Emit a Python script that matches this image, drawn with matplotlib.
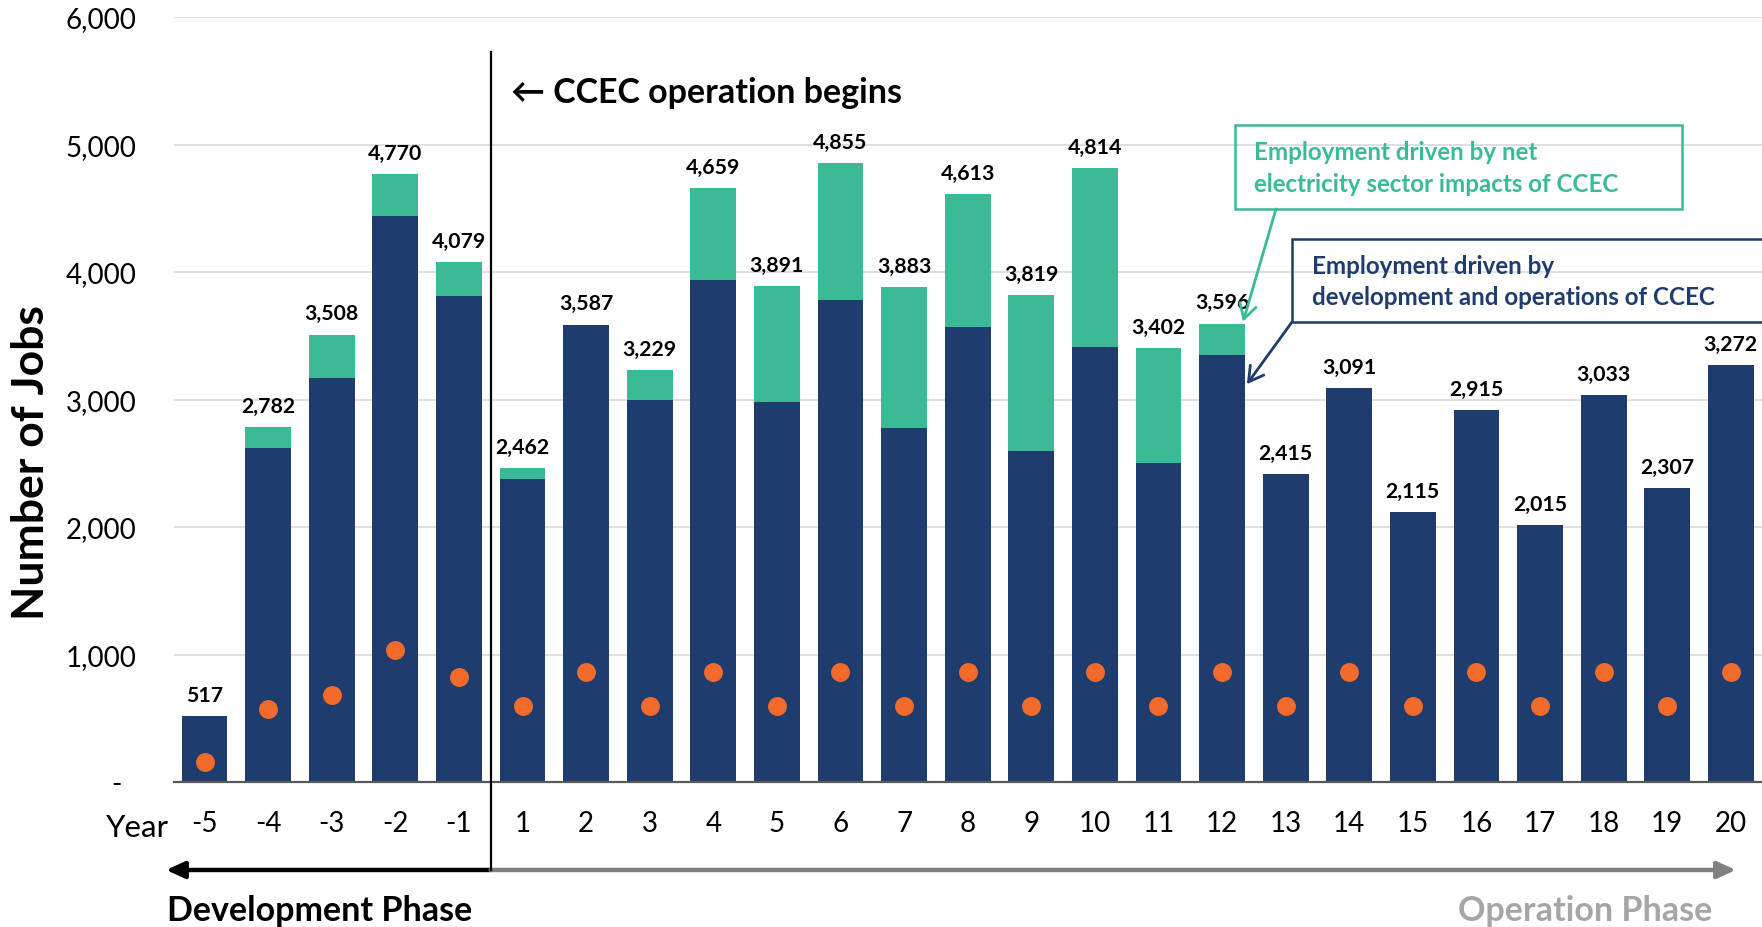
import matplotlib
matplotlib.use('Agg')
import matplotlib.pyplot as plt
from matplotlib.patches import Rectangle

years = ['-5', '-4', '-3', '-2', '-1', '1', '2', '3', '4', '5', '6', '7', '8',
         '9', '10', '11', '12', '13', '14', '15', '16', '17', '18', '19', '20']
# jobs from development and operations of CCEC (navy)
dev_ops_jobs = [517, 2620, 3170, 4440, 3810, 2380, 3587, 3000, 3940, 2980, 3780,
                2780, 3570, 2600, 3410, 2500, 3350, 2415, 3091, 2115, 2915, 2015,
                3033, 2307, 3272]
# jobs from net electricity sector impacts (teal)
net_elec_jobs = [0, 162, 338, 330, 269, 82, 0, 229, 719, 911, 1075, 1103, 1043,
                 1219, 1404, 902, 246, 0, 0, 0, 0, 0, 0, 0, 0]
total_labels = [517, 2782, 3508, 4770, 4079, 2462, 3587, 3229, 4659, 3891, 4855,
                3883, 4613, 3819, 4814, 3402, 3596, 2415, 3091, 2115, 2915, 2015,
                3033, 2307, 3272]
dot_values = [160, 572, 685, 1033, 824, 594, 863, 594, 863, 594, 863, 594, 863,
              594, 863, 594, 863, 594, 863, 594, 863, 594, 863, 594, 863]
y_ticks = [0, 1000, 2000, 3000, 4000, 5000, 6000]

NAVY = '#1e3c6e'
TEAL = '#3abb96'
ORANGE = '#f26b2b'
W, H = 1762, 928

plt.rcParams['font.family'] = ['Lato', 'DejaVu Sans']


def fpx(x: float, y: float):
    # figure pixel (from top-left) -> figure fraction
    return x / W, 1 - y / H


fig = plt.figure(figsize=(W / 100, H / 100), dpi=100)
ax = fig.add_axes([174 / W, 1 - 783 / H, (W - 174) / W, (783 - 18) / H])

pos = list(range(len(years)))
ax.bar(pos, dev_ops_jobs, width=0.72, color=NAVY, zorder=2)
ax.bar(pos, net_elec_jobs, width=0.72, bottom=dev_ops_jobs, color=TEAL, zorder=2)
ax.scatter(pos, dot_values, s=185, color=ORANGE, zorder=3, linewidths=0)

for i, v in enumerate(total_labels):
    ax.annotate(f'{v:,}', (i, dev_ops_jobs[i] + net_elec_jobs[i]),
                xytext=(0, 11), textcoords='offset points', ha='center',
                va='baseline', fontsize=15.3, fontweight='bold', annotation_clip=False)

ax.set_xlim(-0.48, 24.49)
ax.set_ylim(0, 6000)
ax.set_xticks(pos)
ax.set_xticklabels(years, fontsize=20)
ax.set_yticks(y_ticks)
ax.set_yticklabels(['-  '] + [f'{t:,}' for t in y_ticks[1:]], fontsize=20)
ax.tick_params(axis='x', length=0, pad=20)
ax.tick_params(axis='y', length=0, pad=27)
ax.grid(axis='y', color='#dcdcdc', lw=1.3, zorder=0)
ax.set_axisbelow(True)
for s in ['top', 'right', 'left']:
    ax.spines[s].set_visible(False)
ax.spines['bottom'].set_color('#595959')
ax.spines['bottom'].set_linewidth(1.6)
ax.spines['bottom'].set_zorder(4)

fig.text(*fpx(31, 463), 'Number of Jobs', rotation=90, ha='center', va='center',
         fontsize=32, fontweight='bold')
fig.text(*fpx(169, 837), 'Year', ha='right', va='baseline', fontsize=22.5)

# operation start marker and phase arrows
ax.axvline(4.5, ymin=-0.115, ymax=0.954, color='black', lw=1.6, clip_on=False, zorder=5)
ax.annotate('', xy=(-0.605, -0.115), xytext=(4.5, -0.115),
            xycoords=('data', 'axes fraction'), textcoords=('data', 'axes fraction'),
            arrowprops=dict(arrowstyle='-|>,head_length=0.55,head_width=0.25',
                            mutation_scale=20, color='black', lw=3.2,
                            shrinkA=0, shrinkB=0))
ax.annotate('', xy=(24.08, -0.115), xytext=(4.5, -0.115),
            xycoords=('data', 'axes fraction'), textcoords=('data', 'axes fraction'),
            arrowprops=dict(arrowstyle='-|>,head_length=0.55,head_width=0.25',
                            mutation_scale=20, color='#808080', lw=3.2,
                            shrinkA=0, shrinkB=0))
fig.text(*fpx(167, 921), 'Development Phase', ha='left', va='baseline',
         fontsize=24.5, fontweight='bold', color='black')
fig.text(*fpx(1712, 921), 'Operation Phase', ha='right', va='baseline',
         fontsize=24.5, fontweight='bold', color='#a6a6a6')
fig.text(*fpx(511, 103), '\u2190 CCEC operation begins', ha='left', va='baseline',
         fontsize=24.5, fontweight='bold')

# callout boxes
x0, y0 = fpx(1235, 210)
fig.add_artist(Rectangle((x0, y0), (1682 - 1235) / W, (210 - 126) / H,
                         transform=fig.transFigure, fill=False, ec=TEAL, lw=1.8))
fig.text(*fpx(1254, 160), 'Employment driven by net', va='baseline',
         fontsize=17.4, fontweight='bold', color=TEAL)
fig.text(*fpx(1254, 192), 'electricity sector impacts of CCEC', va='baseline',
         fontsize=17.4, fontweight='bold', color=TEAL)
x0, y0 = fpx(1292, 323)
fig.add_artist(Rectangle((x0, y0), (1800 - 1292) / W, (323 - 240) / H,
                         transform=fig.transFigure, fill=False, ec=NAVY, lw=1.8))
fig.text(*fpx(1312, 274), 'Employment driven by', va='baseline',
         fontsize=17.4, fontweight='bold', color=NAVY)
fig.text(*fpx(1312, 305), 'development and operations of CCEC', va='baseline',
         fontsize=17.4, fontweight='bold', color=NAVY)

ax.annotate('', xy=(16.33, 3610), xytext=fpx(1276, 210), textcoords='figure fraction',
            arrowprops=dict(arrowstyle='->,head_length=0.7,head_width=0.4',
                            mutation_scale=15, color=TEAL, lw=2, shrinkA=0, shrinkB=0),
            annotation_clip=False)
ax.annotate('', xy=(16.39, 3120), xytext=fpx(1292, 323), textcoords='figure fraction',
            arrowprops=dict(arrowstyle='->,head_length=0.7,head_width=0.4',
                            mutation_scale=15, color=NAVY, lw=2, shrinkA=0, shrinkB=0),
            annotation_clip=False)

fig.savefig('out.png', dpi=100)
